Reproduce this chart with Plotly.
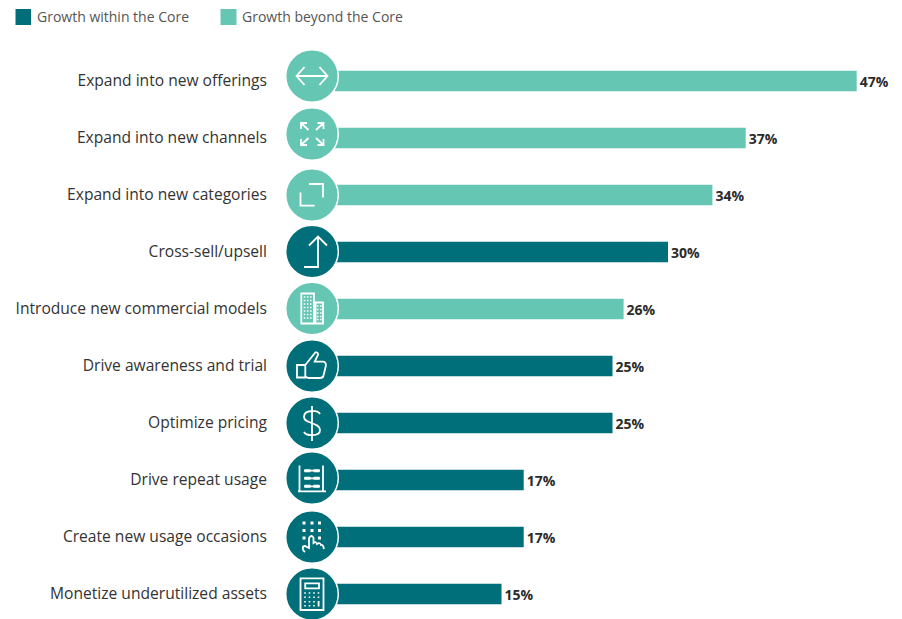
import re
import plotly.graph_objects as go

# Survey results: share of respondents per growth lever
categories = [
    "Expand into new offerings", "Expand into new channels", "Expand into new categories",
    "Cross-sell/upsell", "Introduce new commercial models", "Drive awareness and trial",
    "Optimize pricing", "Drive repeat usage", "Create new usage occasions",
    "Monetize underutilized assets",
]
values = [47, 37, 34, 30, 26, 25, 25, 17, 17, 15]
groups = ["beyond", "beyond", "beyond", "within", "beyond", "within", "within", "within", "within", "within"]
legend_labels = {"within": "Growth within the Core", "beyond": "Growth beyond the Core"}

DARK = "#006f79"
LIGHT = "#66c6b4"
COLORS = {"within": DARK, "beyond": LIGHT}

W, H = 902, 619
MARGIN_L = 268
ZERO_PX = 335.0       # where the value axis starts
PX_PER_PCT = 11.1
ROW_0_PX = 81.0       # centre of the first row
ROW_PX = 57.0
CIRCLE_X_PX = 312.0
CIRCLE_R = 26.3


def value_at(px):
    return (px - ZERO_PX) / PX_PER_PCT


def px_x(px):
    return (px - MARGIN_L) / (W - MARGIN_L)


def px_y(py):
    return 1 - py / H


def flip(d):
    """Pixel-sized shape paths grow upward; icons are written with y pointing down."""
    out = []
    for seg in re.findall(r"[MLQCZ][^MLQCZ]*", d):
        nums = re.findall(r"-?\d+\.?\d*", seg)
        pairs = [f"{float(nums[i]):g},{-float(nums[i + 1]):g}" for i in range(0, len(nums), 2)]
        out.append(seg[0] + " ".join(pairs))
    return " ".join(out)


def rect(x0, y0, x1, y1):
    return f"M{x0} {y0} L{x1} {y0} L{x1} {y1} L{x0} {y1} Z"


def dots(xs, ys, s=0.8):
    return " ".join(rect(x - s, y - s, x + s, y + s) for x in xs for y in ys)


def chevrons(points):
    return " ".join("M" + " L".join(f"{x} {y}" for x, y in p) for p in points)


# Line-art pictograms drawn inside each circle: (outlines, filled details, circle offset)
ICONS = [
    (chevrons([[(-15.5, 0), (15.5, 0)], [(-7.5, -9), (-15.5, 0), (-7.5, 9)], [(7.5, -9), (15.5, 0), (7.5, 9)]]),
     "", -5),
    (chevrons([[(-11, -5), (-11, -11), (-5, -11)], [(-11, -11), (-3.5, -4)],
               [(5.5, -11), (11.5, -11), (11.5, -5)], [(11.5, -11), (4, -4)],
               [(-11, 5), (-11, 11), (-5, 11)], [(-11, 11), (-3.5, 4)],
               [(5.5, 11), (11.5, 11), (11.5, 5)], [(11.5, 11), (4, 4)]]),
     "", -4),
    (chevrons([[(-3, -11), (11, -11), (11, 2.5)], [(-11.5, -2.5), (-11.5, 10.7), (2.7, 10.7)]]), "", 0),
    (chevrons([[(-3, -6), (6, -15), (15, -6)], [(6, -15), (6, 15.5), (-8, 15.5)]]), "", -0.5),
    (rect(-10.7, -15, 2, 15) + " " + rect(3.5, -6, 11, 15),
     dots([-7.5, -4.3, -1.2], [-11.5, -8, -4.5, -1, 2.5, 6, 9.5]) + " " + dots([5.7, 8.8], [-2.5, 1, 4.5, 8, 11]), -0.5),
    (rect(-15, -1, -6.7, 11.5) +
     " M-6.7 -1 L3.3 -13.5 Q6.5 -14 6 -11 L2.7 -4.3 L11 -4.3 Q14.5 -4 13.8 0 L11.5 9.5 Q11 12 8 12 L-3 12 Q-5.5 12 -6.7 10",
     "", 0),
    ("M0 -17 L0 18 M8 -9 C6 -13 -8 -14 -8 -6 C-8 1 8 -1 8 7 C8 14 -6 13 -8 9", "", 0),
    (chevrons([[(-12.5, -12.5), (-12.5, 13.3)], [(11, -12.5), (11, 13.3)], [(-14, 13.3), (14, 13.3)],
               [(-8, -7.3), (8, -7.3)], [(-8, 0.3), (8, 0.3)], [(-8, 8.3), (8, 8.3)]]),
     dots([-6, -3, 3, 6], [-7.3, 0.3, 8.3], 1.5), -2),
    ("M-7 15 C-10 13 -10 9 -7 9 L-3 11 L-3 1 Q0 -3 1.5 1 L1.5 6 Q4 4 5 7 Q8 5 9 8 Q11 7 12 12",
     dots([-8, 0, 7.5], [-14, -6.5], 1.5) + " " + dots([-8, 7.5], [1], 1.5), 0),
    (rect(-11.5, -15.7, 11.5, 16) + " " + rect(-6.8, -10.7, 7, -5.7),
     dots([-7, -2.5, 2], [-1, 3.3, 7.7, 11.7], 0.8) + " " + dots([6.5], [-1, 3.3], 0.8) + " " + rect(5.7, 7, 7.5, 12.5), 0),
]

fig = go.Figure()

for key in ("within", "beyond"):
    x = [v if g == key else None for v, g in zip(values, groups)]
    text = [f"{v}%" if g == key else "" for v, g in zip(values, groups)]
    fig.add_trace(go.Bar(
        y=categories, x=x, name=legend_labels[key], orientation="h",
        marker=dict(color=COLORS[key], line_width=0),
        text=text, textposition="outside", cliponaxis=False,
        textfont=dict(family="Open Sans", size=14, color="#2b2b2b", weight=700),
    ))

shapes = []
for i, (group, (outline, solid, dy)) in enumerate(zip(groups, ICONS)):
    anchor = dict(xref="x", yref="y", xsizemode="pixel", ysizemode="pixel",
                  xanchor=value_at(CIRCLE_X_PX), yanchor=i + dy / ROW_PX, layer="above")
    r = CIRCLE_R
    shapes.append(dict(type="circle", x0=-r, x1=r, y0=-r, y1=r, fillcolor=COLORS[group],
                       line=dict(color="white", width=1.5), **anchor))
    shapes.append(dict(type="path", path=flip(outline), line=dict(color="white", width=1.8), **anchor))
    if solid:
        shapes.append(dict(type="path", path=flip(solid), fillcolor="white", line=dict(width=0), **anchor))

# Key above the chart
annotations = []
for key, x0, x1, label_x in (("within", 15.5, 31, 35), ("beyond", 220.5, 236.5, 240)):
    shapes.append(dict(type="rect", xref="paper", yref="paper", x0=px_x(x0), x1=px_x(x1),
                       y0=px_y(25), y1=px_y(9), fillcolor=COLORS[key], line_width=0))
    annotations.append(dict(xref="paper", yref="paper", x=px_x(label_x), y=px_y(17), text=legend_labels[key],
                            showarrow=False, xanchor="left", yanchor="middle",
                            font=dict(family="Open Sans", size=14, color="#555555")))

fig.update_layout(
    width=W, height=H, margin=dict(l=MARGIN_L, r=0, t=0, b=0, autoexpand=False),
    paper_bgcolor="white", plot_bgcolor="white",
    barmode="overlay", bargap=1 - 20.5 / ROW_PX, showlegend=False,
    shapes=shapes, annotations=annotations,
    xaxis=dict(range=[value_at(MARGIN_L), value_at(W)], visible=False),
    yaxis=dict(type="category", categoryorder="array", categoryarray=categories,
               range=[(H - ROW_0_PX) / ROW_PX, -ROW_0_PX / ROW_PX],
               showgrid=False, showline=False, zeroline=False, ticks="", automargin=False,
               tickfont=dict(family="Open Sans", size=15.6, color="#333333")),
)

fig.write_html("out.html")
